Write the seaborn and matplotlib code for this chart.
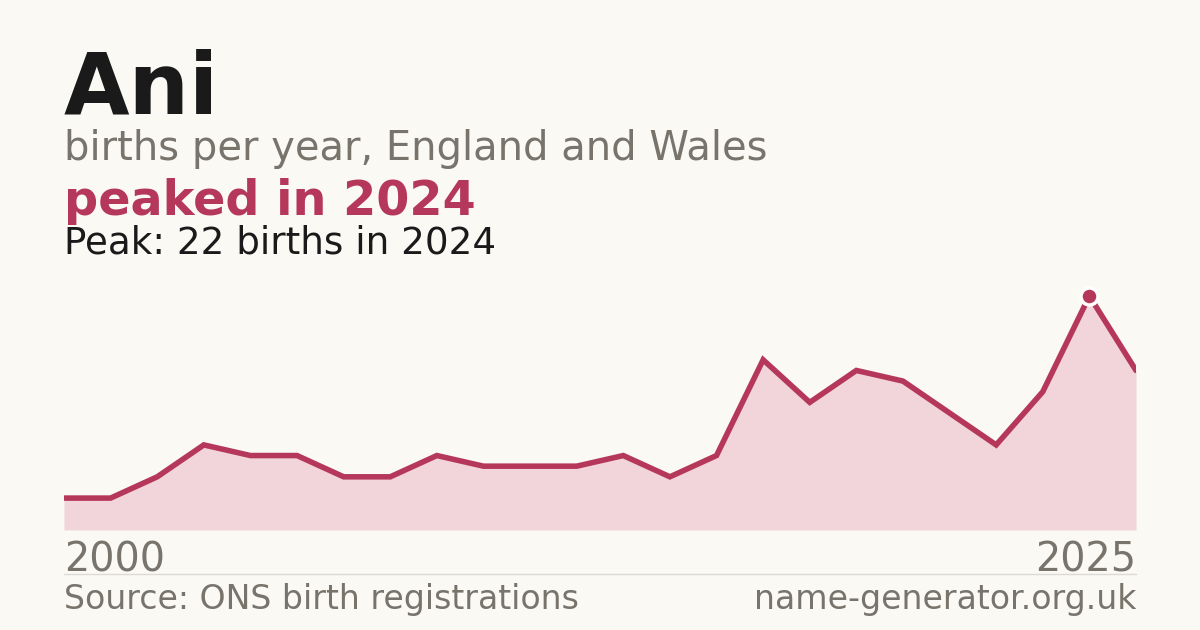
import pandas as pd
import numpy as np
import matplotlib.pyplot as plt
import seaborn as sns

# births per year for the name "Ani"
years = [2000, 2003, 2004, 2005, 2006, 2007, 2008, 2009, 2010, 2011, 2012, 2013,
         2014, 2015, 2016, 2017, 2018, 2019, 2020, 2021, 2022, 2023, 2024, 2025]
births = [3, 3, 5, 8, 7, 7, 5, 5, 7, 6, 6, 6,
          7, 5, 7, 16, 12, 15, 14, 11, 8, 13, 22, 15]
end_labels = ['2000', '2025']

bg = '#faf9f4'
accent = '#b5385a'
fill = '#f2d5da'
grey = '#78746c'
ink = '#1a1a1a'

df = pd.DataFrame({'pos': range(len(years)), 'year': years, 'births': births})
peak = df.loc[df['births'].idxmax()]

sns.set_style('white')
plt.rcParams['font.family'] = ['DejaVu Sans']

fig = plt.figure(figsize=(12, 6.3), dpi=100, facecolor=bg)
ax = fig.add_axes([64 / 1200, 100 / 630, 1072 / 1200, 234 / 630])
ax.set_facecolor(bg)

ax.fill_between(df['pos'], df['births'], 0, color=fill, linewidth=0)
sns.lineplot(data=df, x='pos', y='births', ax=ax, color=accent, linewidth=4,
             solid_joinstyle='miter')
sns.scatterplot(x=[peak['pos']], y=[peak['births']], ax=ax, color=accent, s=150,
                edgecolor='white', linewidth=2.5, zorder=5, clip_on=False)

ax.set_xlim(0, len(years) - 1)
ax.set_ylim(0, max(births))
ax.axis('off')

fig.text(64 / 1200, 1 - 113 / 630, 'Ani', fontsize=61, fontweight='bold',
         color=ink, va='baseline')
fig.text(64 / 1200, 1 - 160 / 630, 'births per year, England and Wales',
         fontsize=28.8, color=grey, va='baseline')
fig.text(64 / 1200, 1 - 215 / 630, f'peaked in {int(peak["year"])}', fontsize=34.4,
         fontweight='bold', color=accent, va='baseline')
fig.text(64 / 1200, 1 - 253 / 630,
         f'Peak: {int(peak["births"])} births in {int(peak["year"])}',
         fontsize=26.8, color=ink, va='baseline')

fig.text(64 / 1200, 1 - 571 / 630, end_labels[0], fontsize=28.6, color=grey,
         va='baseline', ha='left')
fig.text(1136 / 1200, 1 - 571 / 630, end_labels[1], fontsize=28.6, color=grey,
         va='baseline', ha='right')

fig.add_artist(plt.Line2D([64 / 1200, 1136 / 1200], [1 - 574 / 630, 1 - 574 / 630],
                          color='#dddad3', linewidth=1))

fig.text(64 / 1200, 1 - 609 / 630, 'Source: ONS birth registrations', fontsize=23.9,
         color=grey, va='baseline', ha='left')
fig.text(1136 / 1200, 1 - 609 / 630, 'name-generator.org.uk', fontsize=23.9,
         color=grey, va='baseline', ha='right')

fig.savefig('out.png', dpi=100, facecolor=bg)
